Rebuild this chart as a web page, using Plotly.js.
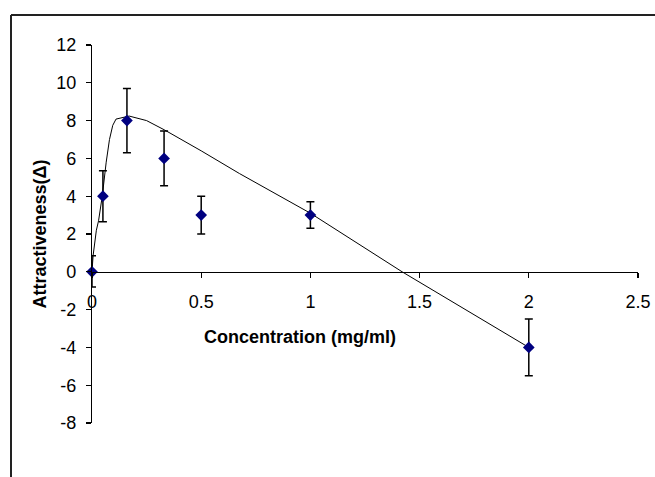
<!DOCTYPE html>
<html>
<head>
<meta charset="utf-8">
<script src="https://cdn.plot.ly/plotly-3.0.1.min.js"></script>
<style>
  html, body { margin: 0; padding: 0; background: #ffffff; }
  #chart { width: 655px; height: 477px; }
</style>
</head>
<body>
<div id="chart"></div>
<script>
var concentration = [0, 0.05, 0.16, 0.33, 0.5, 1, 2];
var attractiveness = [0, 4, 8, 6, 3, 3, -4];
var errorPlus = [0.85, 1.35, 1.7, 1.45, 1.0, 0.7, 1.5];
var errorMinus = [0.8, 1.35, 1.7, 1.45, 1.0, 0.7, 1.5];

// Fitted curve
var fitX = [0, 0.005, 0.02, 0.03, 0.047, 0.057, 0.065, 0.08, 0.095, 0.11, 0.14, 0.17, 0.25, 0.333, 0.5, 0.675, 1, 1.42, 2];
var fitY = [0, 0.85, 2.2, 2.7, 4.0, 5.2, 5.8, 7.0, 7.75, 8.08, 8.17, 8.24, 8.0, 7.5, 6.4, 5.2, 3.1, 0, -4];

// Tick values
var xTicks = [0, 0.5, 1, 1.5, 2, 2.5];
var xTickLabels = ["0", "0.5", "1", "1.5", "2", "2.5"];
var yTicks = [-8, -6, -4, -2, 0, 2, 4, 6, 8, 10, 12];
var yTickLabels = ["-8", "-6", "-4", "-2", "0", "2", "4", "6", "8", "10", "12"];

var xTitle = "Concentration (mg/ml)";
var yTitle = "Attractiveness(Δ)";

var tickFont = { family: "Liberation Sans, Arial, sans-serif", size: 18, color: "#000000" };
var titleFont = { family: "Liberation Sans, Arial, sans-serif", size: 18, color: "#000000", weight: "bold" };

var traces = [
  {
    x: fitX, y: fitY,
    type: "scatter", mode: "lines",
    line: { color: "#000000", width: 1 },
    hoverinfo: "skip", showlegend: false, cliponaxis: false
  },
  {
    x: concentration, y: attractiveness,
    type: "scatter", mode: "markers",
    marker: { symbol: "diamond", size: 9, color: "#000080" },
    error_y: { type: "data", array: errorPlus, arrayminus: errorMinus, symmetric: false,
               color: "#000000", thickness: 1.5, width: 4 },
    showlegend: false, cliponaxis: false
  }
];

var layout = {
  width: 655, height: 477,
  margin: { l: 92, r: 17, t: 45, b: 54 },
  paper_bgcolor: "#ffffff", plot_bgcolor: "#ffffff",
  showlegend: false,
  xaxis: {
    range: [0, 2.5], anchor: "free", position: 0.4,
    showline: true, linecolor: "#000000", linewidth: 1.2,
    ticks: "outside", ticklen: 5, tickwidth: 1.2, tickcolor: "#000000",
    tickvals: xTicks, ticktext: xTickLabels, tickfont: tickFont,
    ticklabelstandoff: 8,
    showgrid: false, zeroline: false
  },
  yaxis: {
    range: [-8, 12],
    showline: true, linecolor: "#000000", linewidth: 1.2,
    ticks: "outside", ticklen: 5, tickwidth: 1.2, tickcolor: "#000000",
    tickvals: yTicks, ticktext: yTickLabels, tickfont: tickFont,
    ticklabelstandoff: 6,
    showgrid: false, zeroline: false,
    title: { text: yTitle, font: titleFont, standoff: 4 }
  },
  annotations: [
    { text: xTitle, xref: "paper", yref: "paper",
      x: (300 - 92) / 546, y: (477 - 54 - 337) / 378,
      xanchor: "center", yanchor: "middle", showarrow: false, font: titleFont }
  ],
  shapes: [
    { type: "line", xref: "paper", yref: "paper",
      x0: (11 - 92) / 546, x1: (11 - 92) / 546, y0: (477 - 54 - 15) / 378, y1: -0.3,
      line: { color: "#222222", width: 2 } },
    { type: "line", xref: "paper", yref: "paper",
      x0: (11 - 92) / 546, x1: 1.2, y0: (477 - 54 - 15) / 378, y1: (477 - 54 - 15) / 378,
      line: { color: "#222222", width: 2 } }
  ]
};

Plotly.newPlot("chart", traces, layout, { displayModeBar: false, staticPlot: true });
</script>
</body>
</html>
